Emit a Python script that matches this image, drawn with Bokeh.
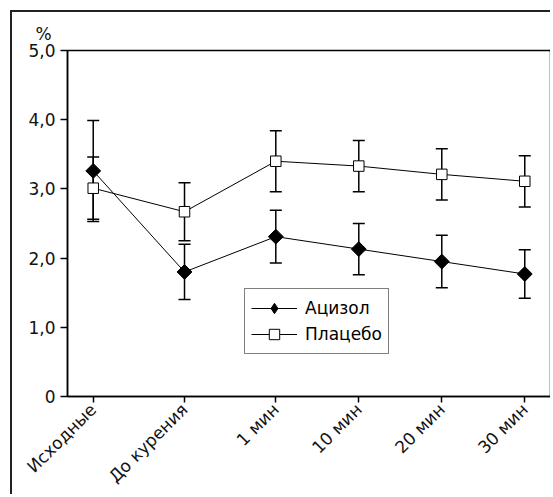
import math
from bokeh.plotting import figure
from bokeh.models import (FactorRange, Range1d, FixedTicker, Whisker, TeeHead,
                          ColumnDataSource, Legend, LegendItem)
from bokeh.embed import file_html
from bokeh.resources import INLINE

# ---- data ----
groups = ["a", "b", "c", "c", "c", "c"]
categories = ["Исходные", "До курения", "1 мин", "10 мин", "20 мин", "30 мин"]
acizol = [3.26, 1.80, 2.31, 2.13, 1.95, 1.77]
acizol_err = [0.73, 0.40, 0.38, 0.37, 0.38, 0.35]
placebo = [3.01, 2.67, 3.40, 3.33, 3.21, 3.11]
placebo_err = [0.45, 0.42, 0.44, 0.37, 0.37, 0.37]
y_ticks = [0, 1, 2, 3, 4, 5]
y_tick_labels = ["0", "1,0", "2,0", "3,0", "4,0", "5,0"]
y_unit = "%"
series_names = ["Ацизол", "Плацебо"]

FONT = "DejaVu Sans"
FS = "17px"

factors = list(zip(groups, categories))
x_range = FactorRange(*factors, group_padding=0.1, factor_padding=0.0,
                      range_padding=-0.19, range_padding_units="absolute")

p = figure(width=540, height=484, x_range=x_range, y_range=Range1d(0, 5),
           output_backend="svg", toolbar_location=None, title=y_unit)
p.styles = {"margin-left": "10px", "margin-top": "10px",
            "border-top": "2px solid #222", "border-left": "2px solid #222"}
p.min_border_left = 55
p.min_border_top = 38
p.min_border_right = 2
p.min_border_bottom = 96
p.outline_line_color = "black"
p.outline_line_width = 1.5
p.xgrid.grid_line_color = None
p.ygrid.grid_line_color = None
p.background_fill_color = "white"
p.border_fill_color = "white"

p.title.align = "left"
p.title.offset = -32
p.title.standoff = 14
p.title.text_font = FONT
p.title.text_font_size = FS
p.title.text_font_style = "normal"
p.title.text_color = "#111"

src = ColumnDataSource(dict(
    x=factors,
    a=acizol, a_lo=[v - e for v, e in zip(acizol, acizol_err)],
    a_hi=[v + e for v, e in zip(acizol, acizol_err)],
    b=placebo, b_lo=[v - e for v, e in zip(placebo, placebo_err)],
    b_hi=[v + e for v, e in zip(placebo, placebo_err)],
))

for lo, hi in (("a_lo", "a_hi"), ("b_lo", "b_hi")):
    w = Whisker(source=src, base="x", lower=lo, upper=hi, line_color="black",
                line_width=1.5,
                upper_head=TeeHead(size=12, line_color="black", line_width=1.5),
                lower_head=TeeHead(size=12, line_color="black", line_width=1.5))
    w.level = "underlay"
    p.add_layout(w)

la = p.line("x", "a", source=src, line_color="black", line_width=1)
sa = p.scatter("x", "a", source=src, marker="square", angle=math.pi / 4, size=10.5,
               fill_color="black", line_color="black")
# legend-only diamond (legend glyphs ignore marker angle)
sa_leg = p.scatter("x", "a", source=src, marker="diamond", size=14,
                   fill_color="black", line_color="black", visible=False)
lb = p.line("x", "b", source=src, line_color="black", line_width=1)
sb = p.scatter("x", "b", source=src, marker="square", size=10.5,
               fill_color="white", line_color="black", line_width=1)

legend = Legend(items=[LegendItem(label=series_names[0], renderers=[la, sa_leg]),
                       LegendItem(label=series_names[1], renderers=[lb, sb])],
                location=(177, 42), border_line_color="black", border_line_width=1,
                background_fill_color="white", background_fill_alpha=1,
                inactive_fill_alpha=0,
                label_text_font=FONT, label_text_font_size=FS, label_text_color="black",
                glyph_width=46, glyph_height=26, label_height=26, spacing=0,
                padding=6, margin=0, label_standoff=8)
p.add_layout(legend)

# axes
p.yaxis.ticker = FixedTicker(ticks=y_ticks)
p.yaxis.major_label_overrides = dict(zip(y_ticks, y_tick_labels))
p.yaxis.minor_tick_line_color = None
p.yaxis.major_tick_in = 0
p.yaxis.major_tick_out = 7
p.yaxis.major_label_standoff = 5
for ax in (p.xaxis[0], p.yaxis[0]):
    ax.axis_line_color = "black"
    ax.axis_line_width = 1.5
    ax.major_tick_line_color = "black"
    ax.major_tick_line_width = 1.5
    ax.major_label_text_font = FONT
    ax.major_label_text_font_size = FS
    ax.major_label_text_color = "#111"

p.xaxis.major_tick_in = 0
p.xaxis.major_tick_out = 6
p.xaxis.major_label_standoff = 4
p.xaxis.major_label_orientation = math.pi / 4
p.xaxis.group_text_font_size = "0px"
p.xaxis.group_text_color = None
p.xaxis.separator_line_color = None

open("out.html", "w").write(file_html(p, INLINE))
